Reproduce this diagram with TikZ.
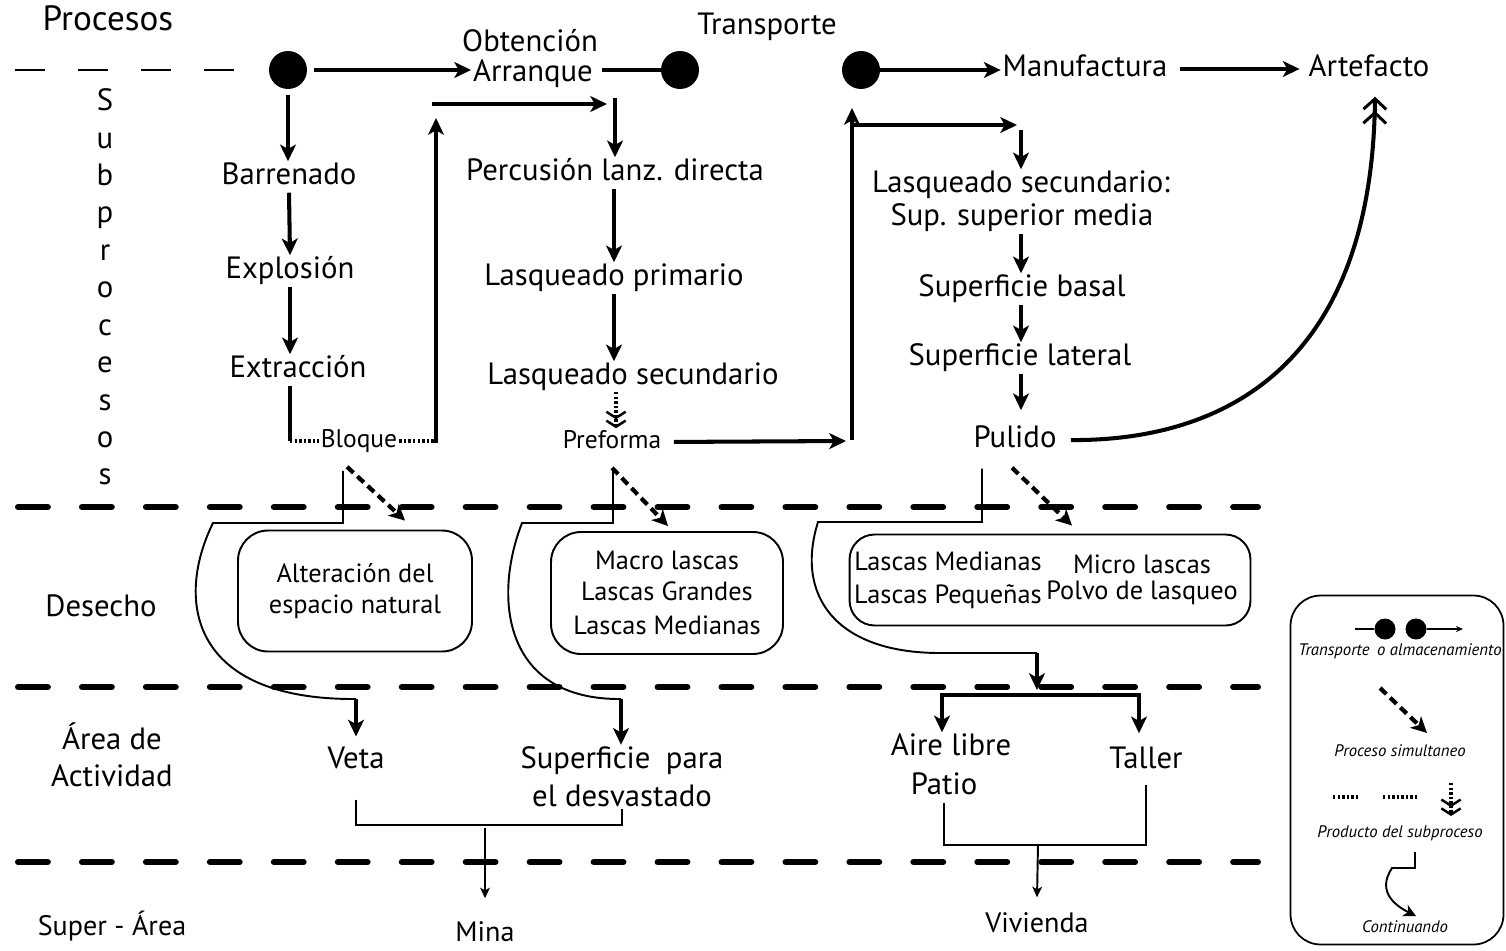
\documentclass[tikz,border=0pt]{standalone}
\usepackage{fontspec}
\setmainfont{PT Sans}
\usetikzlibrary{arrows.meta,calc}
\newcommand\szmain{\fontsize{17.5}{21}\selectfont}
\newcommand\szsmall{\fontsize{14.5}{17}\selectfont}
\newcommand\szbox{\fontsize{15}{17.6}\selectfont}
\newcommand\szleg{\fontsize{9.5}{11}\selectfont\itshape}
\begin{document}
\begin{tikzpicture}[x=0.02cm,y=-0.02cm,
  lbl/.style={font=\szmain, inner sep=1pt, text height=12pt, text depth=3.5pt},
  lblm/.style={font={\fontsize{17.5}{21.6}\selectfont}, inner sep=1pt, align=center},
  sml/.style={font=\szsmall, inner sep=1pt, text height=10.3pt, text depth=3pt},
  legtxt/.style={font=\szleg, inner sep=0.5pt},
  dotn/.style={circle, fill=black, minimum size=0.76cm, inner sep=0pt},
  legdot/.style={circle, fill=black, minimum size=0.42cm, inner sep=0pt},
  thk/.style={line width=2.3pt},
  thn/.style={line width=1.1pt},
  arw/.style={-{Stealth[length=9.5pt,width=9pt,inset=2.5pt]}},
  arwboth/.style={{Stealth[length=9.5pt,width=9pt,inset=2.5pt]}-{Stealth[length=9.5pt,width=9pt,inset=2.5pt]}},
  arwsm/.style={-{Stealth[length=6pt,width=5.5pt,inset=1.5pt]}},
  simarr/.style={line width=2.4pt, dash pattern=on 5pt off 3pt, -{Stealth[length=9pt,width=9pt,inset=2.5pt]}},
  dotl/.style={line width=2.2pt, dash pattern=on 1.4pt off 1.2pt},
  dotarr/.style={dotl, -{Straight Barb[length=3.5pt,width=11pt,line width=1.4pt] Straight Barb[length=3.5pt,width=11pt,line width=1.4pt]}},
  dblbarb/.style={-{Straight Barb[length=6pt,width=13pt,line width=1.7pt] Straight Barb[length=6pt,width=13pt,line width=1.7pt]}},
  sepline/.style={line width=3.4pt, line cap=round, dash pattern=on 17pt off 19.4pt},
  wbox/.style={draw, line width=1.1pt, rounded corners=0.6cm},
]
\useasboundingbox (0,0) rectangle (1506,950);

% ---------- band separators ----------
\draw[line width=1.2pt, dash pattern=on 17pt off 18.8pt] (15,70) -- (240,70);
\draw[sepline] (18,507) -- (1258,507);
\draw[sepline] (18,687) -- (1258,687);
\draw[sepline] (18,862) -- (1258,862);

% ---------- row titles ----------
\node[lbl, font={\fontsize{20}{24}\selectfont}] (proc) at (108,23) {Procesos};
\node[font={\fontsize{17.5}{21.3}\selectfont}, align=center, inner sep=0pt] (subp) at (105,287) {S\\u\\b\\p\\r\\o\\c\\e\\s\\o\\s};
\node[lbl] (des) at (101,609) {Desecho};
\node[lbl] (area1) at (112,742) {Área de};
\node[lbl] (area2) at (112,779) {Actividad};
\node[lbl, font={\fontsize{16}{19}\selectfont}] (supa) at (112,928) {Super - Área};

% ---------- main process line ----------
\node[dotn] (d1) at (288,70) {};
\node[lbl] (obt) at (530,44) {Obtención};
\node[lbl] (arr) at (533,74) {Arranque};
\node[dotn] (d2) at (680,70) {};
\node[lbl] (transp) at (767,27) {Transporte};
\node[dotn] (d3) at (861,70) {};
\node[lbl] (manu) at (1085,69) {Manufactura};
\node[lbl] (arte) at (1369,69) {Artefacto};

\draw[thk,arw,shorten <=4pt] (d1.east) -- (d1.east -| arr.west);
\draw[thk,shorten <=4pt] (arr.east |- d2.west) -- (d2.west);
\draw[thk,arw] (d3.east) -- (d3.east -| manu.west);
\draw[thk,arw,shorten <=6pt,shorten >=4pt] (manu.east) -- (arte.west);

% ---------- quarrying subprocesses ----------
\node[lbl] (barr) at (289,177) {Barrenado};
\node[lbl] (expl) at (290,271) {Explosión};
\node[lbl] (extr) at (298,370) {Extracción};
\node[sml] (bloq) at (359,441) {Bloque};

\draw[thk,arw,shorten <=3pt] (d1) -- (d1 |- barr.north);
\draw[thk,arw] (barr.south) -- (expl.north);
\draw[thk,arw] (expl.south) -- (expl.south |- extr.north);
\draw[thk] (expl.south |- extr.south) -- (expl.south |- bloq.west);
\draw[dotl] (expl.south |- bloq.west) -- (bloq.west);

\coordinate (bq) at (436,441);
\coordinate (bqt) at (436,118);
\draw[dotl] (bloq.east) -- (bq);
\draw[thk,arw] ($(bq)+(0,2)$) -- (bqt);
\coordinate (ha) at (432,104);
\coordinate (hb) at (607,104);
\draw[thk,arw] (ha) -- (hb);

% ---------- reduction subprocesses ----------
\node[lbl] (perc) at (615,173) {Percusión lanz. directa};
\node[lbl] (lprim) at (614,278) {Lasqueado primario};
\node[lbl] (lsec) at (633,377) {Lasqueado secundario};
\node[sml] (pref) at (612,442) {Preforma};

\coordinate (va) at (615,98);
\draw[thk,arw] (va) -- (va |- perc.north);
\draw[thk,arw] (perc.south -| lprim.north) -- (lprim.north);
\draw[thk,arw] (lprim.south) -- (lprim.south |- lsec.north);
\coordinate (pd1) at (616,392);
\draw[dotarr] (pd1) -- (pd1 |- pref.north);

\coordinate (pe) at (846,441);
\draw[thk,arw,shorten <=6pt] (pref.east) -- (pe);
\coordinate (pv1) at (852,440);
\coordinate (pv2) at (852,108);
\draw[thk,arw] (pv1) -- (pv2);
\coordinate (ph1) at (850,125);
\coordinate (ph2) at (1017,125);
\draw[thk,arw] (ph1) -- (ph2);

% ---------- manufacture subprocesses ----------
\node[lbl] (ls2) at (1021,185) {Lasqueado secundario:};
\node[lbl] (supm) at (1022,218) {Sup. superior media};
\node[lbl] (sbas) at (1022,289) {Superficie basal};
\node[lbl] (slat) at (1020,358) {Superficie lateral};
\node[lbl] (pul) at (1015,440) {Pulido};

\coordinate (pd) at (1021,130);
\draw[thk,arw] (pd) -- (pd |- ls2.north);
\draw[thk,arw] (supm.south -| pd) -- (pd |- sbas.north);
\draw[thk,arw] (sbas.south -| pd) -- (pd |- slat.north);
\draw[thk,arw,shorten >=8pt] (slat.south -| pd) -- (pd |- pul.north);

\draw[thk,dblbarb,shorten <=7pt] (pul.east) .. controls (1230,441) and (1372,360) .. ($(arte.south)+(6,12)$);

% ---------- waste ----------
\node[wbox, minimum width=4.68cm, minimum height=2.42cm, font=\szbox, align=center] (box1) at (355,591) {Alteración del\\espacio natural};
\node[wbox, minimum width=4.64cm, minimum height=2.44cm, font=\szbox, align=center] (box2) at (667,593) {Macro lascas\\Lascas Grandes\\[2pt]Lascas Medianas};
\node[wbox, rounded corners=0.5cm, minimum width=8.02cm, minimum height=1.82cm] (box3) at (1050,580) {};
\node[font=\szbox, align=center, inner sep=0pt] (w1) at (948,580) {Lascas Medianas\\[1pt]Lascas Pequeñas};
\node[font={\fontsize{15}{14.8}\selectfont}, align=center, inner sep=0pt] (w2) at (1142,580) {Micro lascas\\Polvo de lasqueo};

\draw[simarr] ($(bloq.south)+(-12,12)$) -- ($(box1.north)+(50,-9)$);
\draw[simarr] ($(pref.south)+(0,12)$) -- ($(box2.north)+(1,-5)$);
\draw[simarr] ($(pul.south)+(-3,12)$) -- ($(box3.north)+(22,-8)$);

% ---------- activity areas ----------
\node[lbl] (veta) at (356,761) {Veta};
\node[lblm] (supd) at (622,777) {Superficie\enspace para\\el desvastado};
\node[lbl] (aire) at (951,748) {Aire libre};
\node[lbl] (patio) at (944,787) {Patio};
\node[lbl] (tall) at (1146,761) {Taller};
\node[lbl, font={\fontsize{16}{19}\selectfont}] (mina) at (485,934) {Mina};
\node[lbl, font={\fontsize{16}{19}\selectfont}] (viv) at (1037,925) {Vivienda};

% continuing connectors
\coordinate (ca1) at (213,523);
\coordinate (ca2) at (356,699);
\draw[thn] ($(bloq.south)+(-16,16)$) |- (ca1) .. controls (175,600) and (190,700) .. (ca2);
\draw[thk,arw,shorten >=5pt] (ca2) -- (veta.north);

\coordinate (cb1) at (522,523);
\coordinate (cb2) at (621,699);
\draw[thn] ($(pref.south)+(1,15)$) |- (cb1) .. controls (492,600) and (505,700) .. (cb2);
\draw[thk,arw] (cb2) -- (cb2 |- supd.north);

\coordinate (cc1) at (818,522);
\coordinate (cc2) at (940,653);
\coordinate (cc3) at (1037,653);
\coordinate (cc4) at (1037,690);
\draw[thn] ($(pul.south)+(-33,13)$) |- (cc1) .. controls (795,595) and (835,653) .. (cc2) -- (cc3);
\draw[thk,arw] (cc3) -- (cc4);

\coordinate (jl) at (942,695);
\coordinate (jr) at (1139,695);
\draw[thk,arwboth] (jl |- aire.north) -- (jl) -- (jr) -- ($(jr |- tall.north)+(0,-12)$);

% merging into super-areas
\draw[thn] ($(veta.south)+(0,23)$) |- ($(supd.south)+(0,16)$) -- (supd.south);
\coordinate (mm) at (485,828);
\draw[thn,arwsm] (mm) -- ($(mina.north)+(0,-20)$);

\draw[thn] (patio.south) |- ($(tall.south)+(0,68)$) -- ($(tall.south)+(0,8)$);
\coordinate (mv) at (1038,844);
\draw[thn,arwsm] (mv) -- ($(viv.north)+(0,-12)$);

% ---------- legend ----------
\node[draw, line width=1pt, rounded corners=0.6cm, minimum width=4.26cm, minimum height=6.98cm] (leg) at (1397,770) {};
\coordinate (lga) at (1355,629);
\node[legdot] (ld1) at (1385,629) {};
\node[legdot] (ld2) at (1416,629) {};
\coordinate (lgb) at (1463,629);
\draw[line width=0.9pt] (lga) -- (ld1);
\draw[line width=0.9pt, -{Stealth[length=4pt,width=3.5pt]}] (ld2) -- (lgb);
\node[legtxt] (lt1) at (1400,651) {Transporte\hspace{0.45em}o almacenamiento};

\coordinate (lgs1) at (1380,688);
\coordinate (lgs2) at (1427,733);
\draw[simarr] (lgs1) -- (lgs2);
\node[legtxt] (lt2) at (1400,751) {Proceso simultaneo};

\draw[dotl] (1333,797) -- (1358,797);
\draw[dotl] (1383,797) -- (1418,797);
\draw[dotarr] (1451,783) -- (1451,816);
\node[legtxt] (lt3) at (1400,833) {Producto del subproceso};

\draw[thn, -{Stealth[length=7pt,width=7pt,inset=2pt]}] (1415,852) -- (1415,868) -- (1392,868) .. controls (1376,892) and (1396,906) .. (1416,916);
\node[legtxt] (lt4) at (1405,927) {Continuando};
\end{tikzpicture}
\end{document}
